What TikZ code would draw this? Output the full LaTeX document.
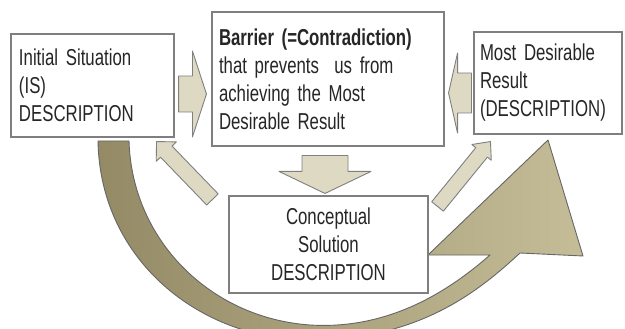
\documentclass[tikz,border=0pt]{standalone}
\usepackage{fontspec}
\setmainfont{Liberation Sans}[FakeStretch=0.73, WordSpace=0.75]
\usepackage{tikz}
\usetikzlibrary{calc}
\definecolor{boxline}{HTML}{7F7F7F}
\definecolor{tanlight}{HTML}{DDD9C3}
\definecolor{tandark}{HTML}{948A66}
\definecolor{tanmid}{HTML}{C4BD97}
\newcommand{\descfont}{\fontsize{23}{28}\selectfont}
\newcommand{\blockarrow}[5]{
  \coordinate (hb) at ($(#2)!#5!(#1)$);
  \path[smallarr] ($(#1)!#3!90:(#2)$) -- ($(hb)!#3!90:(#2)$) -- ($(hb)!#4!90:(#2)$) -- (#2)
    -- ($(hb)!#4!-90:(#2)$) -- ($(hb)!#3!-90:(#2)$) -- ($(#1)!#3!-90:(#2)$) -- cycle;
}

\begin{document}
\begin{tikzpicture}[x=1pt,y=-1pt,
    descbox/.style={draw=boxline, line width=1.1pt, fill=white, text=black!85, font=\descfont, align=left, inner ysep=0pt},
    smallarr/.style={draw=boxline, line width=0.9pt, fill=tanlight, line join=round},
    bigarr/.style={draw=boxline!80!black, line width=0.9pt, left color=tandark, right color=tanmid, line join=round}]
\path[use as bounding box, clip] (0,0) rectangle (625,329);

\path[bigarr] (98,141) -- (129,141) .. controls (132,240) and (210,318) .. (310,325)
  .. controls (390,330) and (450,290) .. (490,255) -- (428,255) -- (548,140) -- (583,256) -- (520,253)
  .. controls (480,290) and (420,340) .. (310,340) .. controls (200,340) and (100,260) .. (98,141) -- cycle;

\node[descbox, text width=147pt, inner xsep=8pt, minimum height=103pt] (is) at (92.5,85.5)
  {Initial Situation\\(IS)\\DESCRIPTION};
\node[descbox, text width=218pt, inner xsep=7pt, minimum height=134pt] (bar) at (328,79)
  {\textbf{Barrier (=Contradiction)}\\that prevents\ \ us from\\achieving the Most\\Desirable Result};
\node[descbox, text width=136pt, inner xsep=6pt, minimum height=102pt] (mdr) at (548,83)
  {Most Desirable\\Result\\(DESCRIPTION)};
\node[descbox, align=center, text width=185pt, inner xsep=7pt, minimum height=97pt] (cs) at (328.5,244.5)
  {Conceptual\\Solution\\DESCRIPTION};

\coordinate (a1) at ($(is.east)+(4,8.5)$);
\coordinate (b1) at ($(bar.west)+(-5,15)$);
\coordinate (a2) at ($(mdr.west)+(-2,10)$);
\coordinate (b2) at ($(bar.east)+(4,14)$);
\coordinate (a3) at ($(bar.south)+(-3,9)$);
\coordinate (b3) at ($(cs.north)+(-3.5,-2)$);
\coordinate (a4) at ($(cs.north west)+(-16,4)$);
\coordinate (b4) at ($(is.south east)+(-18,4)$);
\coordinate (a5) at ($(cs.north east)+(9,11)$);
\coordinate (b5) at ($(mdr.south west)+(17,7)$);

\blockarrow{a1}{b1}{18pt}{43pt}{14pt}
\blockarrow{a2}{b2}{20pt}{40pt}{9pt}
\blockarrow{a3}{b3}{23pt}{46pt}{22pt}
\blockarrow{a4}{b4}{8pt}{14pt}{14pt}
\blockarrow{a5}{b5}{7.5pt}{12.5pt}{14pt}
\end{tikzpicture}
\end{document}
